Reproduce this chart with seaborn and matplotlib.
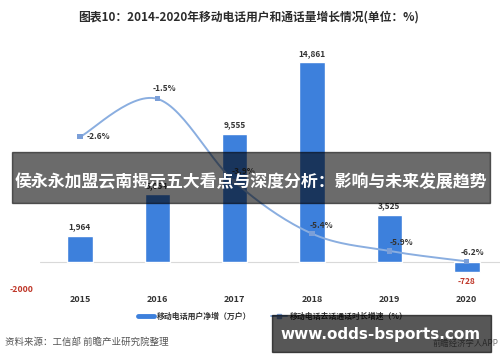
import numpy as np
import pandas as pd
import matplotlib
matplotlib.use('Agg')
import matplotlib.pyplot as plt
from matplotlib.lines import Line2D
from matplotlib.patches import Rectangle
import seaborn as sns

# data
years = ['2015', '2016', '2017', '2018', '2019', '2020']
user_growth = [1964, 5054, 9555, 14861, 3525, -728]        # 万户
call_growth = [-2.6, -1.5, -3.9, -5.4, -5.9, -6.2]          # %

title = '图表10：2014-2020年移动电话用户和通话量增长情况(单位：%)'
bar_name = '移动电话用户净增（万户）'
line_name = '移动电话去话通话时长增速（%）'
source = '资料来源：工信部 前瞻产业研究院整理'
banner = '侯永永加盟云南揭示五大看点与深度分析：影响与未来发展趋势'
site = 'www.odds-bsports.com'

sns.set_theme(style='white')
plt.rcParams['font.family'] = ['Noto Sans CJK SC', 'DejaVu Sans']
plt.rcParams['axes.unicode_minus'] = False

bar_color = '#3d80dc'
line_color = '#8aaee0'
txt = '#333333'
red = '#c0392b'

W, H = 500, 362
def fx(px): return px / W
def fy(py): return 1 - py / H

fig = plt.figure(figsize=(5, 3.62), dpi=100)
ax = fig.add_axes([fx(40), fy(289), fx(500) - fx(40), fy(47) - fy(289)])

df = pd.DataFrame({'year': years, 'users': user_growth})
sns.barplot(data=df, x='year', y='users', color=bar_color, width=0.33,
            saturation=1, ax=ax)
ax.set_xlim(-0.517, 5.43)
ax.set_ylim(-2000, 16000)
ax.axhline(0, color='#d9d9d9', lw=0.8, zorder=0)
for s in ax.spines.values():
    s.set_visible(False)
ax.set_xlabel('')
ax.set_ylabel('')
ax.set_yticks([-2000])
ax.set_yticklabels(['-2000'])
ax.tick_params(axis='y', length=0, pad=5, labelsize=6.3, labelcolor=red)
ax.tick_params(axis='x', length=0, pad=4, labelsize=6.5, labelcolor=txt)
for lab in ax.get_xticklabels() + ax.get_yticklabels():
    lab.set_fontweight('bold')

for i, v in enumerate(user_growth):
    if v >= 0:
        ax.annotate(f'{v:,}', (i, v), xytext=(0, 3), textcoords='offset points',
                    ha='center', va='bottom', fontsize=6, fontweight='bold', color=txt)
    else:
        ax.annotate(f'{v:,}', (i, v), xytext=(0, -4), textcoords='offset points',
                    ha='center', va='top', fontsize=6, fontweight='bold', color=red)

# growth line on a second axis, smoothed like the Excel original
ax2 = ax.twinx()
ax2.set_ylim(-7, 0)
ax2.set_yticks([])
for s in ax2.spines.values():
    s.set_visible(False)

xs = np.arange(len(years), dtype=float)
ys = np.array(call_growth)
px = np.concatenate([[xs[0]], xs, [xs[-1]]])
py = np.concatenate([[ys[0]], ys, [ys[-1]]])
t = np.linspace(0, 1, 30)
cx, cy = [], []
for k in range(1, len(px) - 2):
    p0, p1, p2, p3 = (np.array([px[j], py[j]]) for j in (k - 1, k, k + 1, k + 2))
    c1 = p1 + (p2 - p0) / 6
    c2 = p2 - (p3 - p1) / 6
    b = ((1 - t) ** 3)[:, None] * p1 + (3 * (1 - t) ** 2 * t)[:, None] * c1 \
        + (3 * (1 - t) * t ** 2)[:, None] * c2 + (t ** 3)[:, None] * p2
    cx.extend(b[:, 0]); cy.extend(b[:, 1])
ax2.plot(cx, cy, color=line_color, lw=1.4, zorder=3)
sns.scatterplot(x=xs, y=ys, marker='s', s=14, color='#7b9fd8', edgecolor='none',
                ax=ax2, zorder=4, legend=False)

offsets = [(5, 0, 'left', 'center'), (5, 4, 'center', 'bottom'),
           (6, 4, 'center', 'bottom'), (7, 3, 'center', 'bottom'),
           (9, 3, 'center', 'bottom'), (4, 3, 'center', 'bottom')]
for i, v in enumerate(call_growth):
    dx, dy, ha, va = offsets[i]
    ax2.annotate(f'{v}%', (i, v), xytext=(dx, dy), textcoords='offset points',
                 ha=ha, va=va, fontsize=6, fontweight='bold', color=txt, zorder=5)

fig.text(0.497, fy(17), title, ha='center', va='center', fontsize=8.5,
         fontweight='bold', color='#2b2b2b')

handles = [Line2D([], [], color=bar_color, lw=3.5),
           Line2D([], [], color=line_color, lw=1.4, marker='s', markersize=3,
                  markerfacecolor='#7b9fd8', markeredgecolor='#7b9fd8')]
fig.legend(handles, [bar_name, line_name], loc='center', ncol=2,
           bbox_to_anchor=(fx(273), fy(316)), frameon=False,
           prop={'size': 5.7, 'weight': 'bold'}, labelcolor=txt,
           handlelength=2.0, handletextpad=0.4, columnspacing=2.4)

fig.text(fx(5), fy(342), source, ha='left', va='center', fontsize=6.8, color='#555555')
fig.text(fx(498), fy(343), '前瞻经济学人APP', ha='right', va='center',
         fontsize=6, color='#777777')

# overlay banners
fig.patches.append(Rectangle((fx(12), fy(203)), fx(490) - fx(12), fy(152) - fy(203),
                             transform=fig.transFigure, color='black', alpha=0.58,
                             zorder=10))
fig.text(fx(251), fy(182), banner, ha='center', va='center', fontsize=12.2,
         fontweight='bold', color='white', zorder=11)
fig.patches.append(Rectangle((fx(272), fy(352)), fx(491) - fx(272), fy(315) - fy(352),
                             transform=fig.transFigure, color='black', alpha=0.66,
                             zorder=10))
fig.text(fx(381), fy(334), site, ha='center', va='center', fontsize=11,
         fontweight='bold', color='white', family=['DejaVu Sans'], zorder=11)

fig.savefig('out.png', dpi=100)
